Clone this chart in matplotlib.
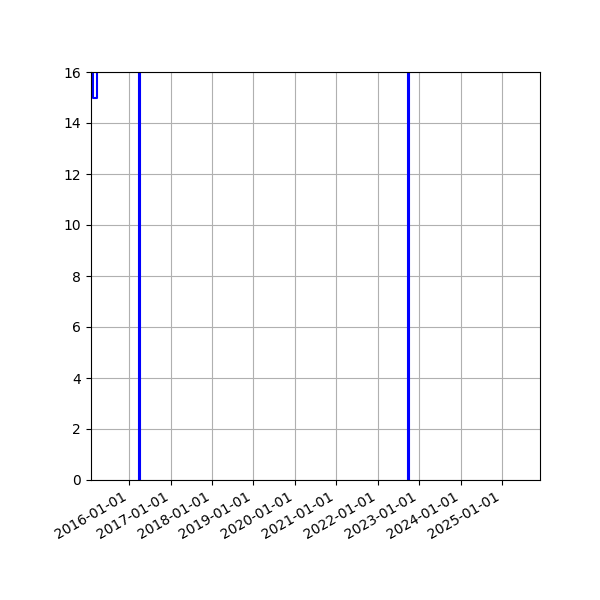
import pandas as pd
import matplotlib
matplotlib.use('Agg')
import matplotlib.pyplot as plt
import matplotlib.dates as mdates

# Series: sits above the visible range most of the time, with a few dips
dates = ['2015-01-26', '2015-02-16', '2015-03-24', '2016-03-26', '2016-04-06',
         '2022-09-22', '2022-10-03', '2025-12-02']
values = [20, 15, 20, 0, 20, 0, 20, 20]

df = pd.DataFrame({'date': pd.to_datetime(dates), 'value': values})

fig, ax = plt.subplots(figsize=(6, 6), dpi=100)

ax.plot(df['date'], df['value'], color='blue', drawstyle='steps-post')

ax.set_xlim(df['date'].iloc[0], df['date'].iloc[-1])
ax.set_ylim(0, 16)
ax.xaxis.set_major_locator(mdates.YearLocator())
ax.xaxis.set_major_formatter(mdates.DateFormatter('%Y-%m-%d'))
ax.grid(True)
fig.autofmt_xdate()
fig.subplots_adjust(left=0.151, right=0.9, top=0.88, bottom=0.2)

plt.savefig('out.png')
